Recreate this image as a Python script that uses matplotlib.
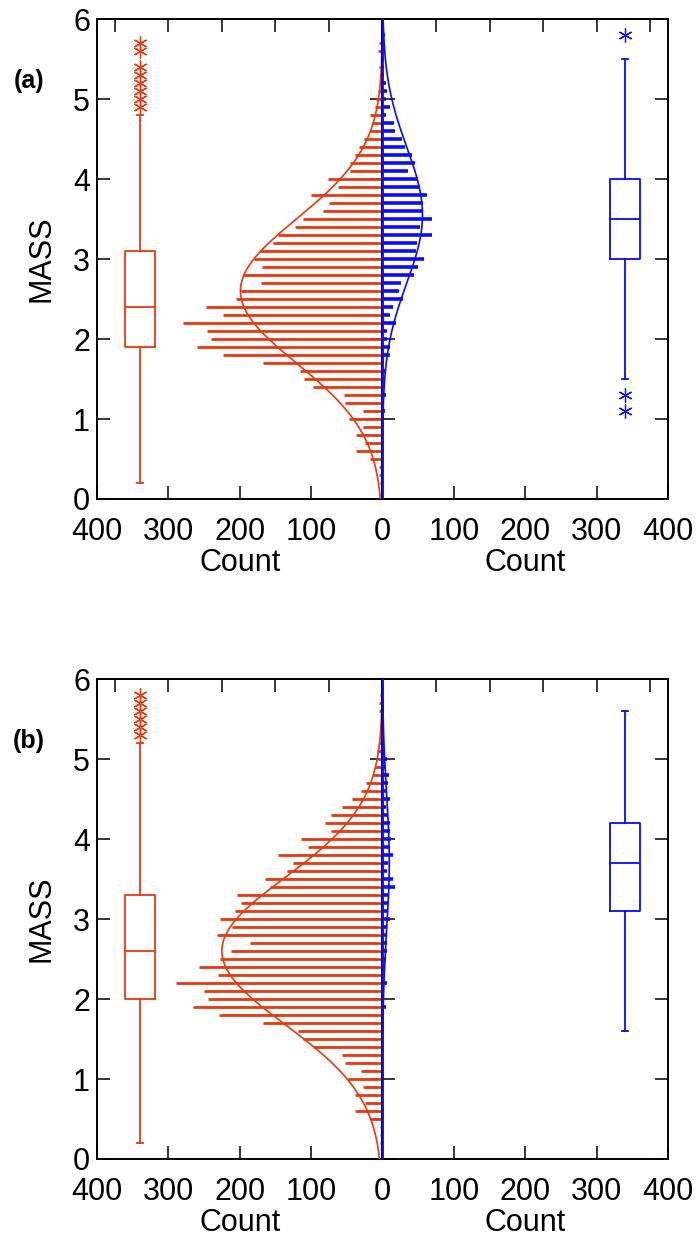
import matplotlib
matplotlib.use("Agg")
import matplotlib.pyplot as plt
import numpy as np

plt.rcParams['font.family'] = ['Liberation Sans', 'DejaVu Sans']

# MASS bin centres (0.1 wide)
mass = np.round(np.arange(0.2, 5.85, 0.1), 1)

# ---- panel (a) counts ----
red_a = [3, 5, 5, 17, 37, 24, 37, 27, 47, 27, 52, 54, 98, 110, 116, 167, 223, 260, 240,
         246, 280, 223, 247, 205, 198, 170, 195, 169, 180, 171, 154, 147, 122, 111, 83,
         75, 100, 62, 76, 45, 45, 39, 33, 26, 18, 15, 18, 10, 9, 7, 2, 3, 5, 0, 6, 5, 0]
blue_a = [0, 0, 0, 0, 0, 0, 0, 0, 0, 4, 1, 5, 1, 4, 5, 2, 11, 11, 7, 7, 19, 10, 15, 29,
          23, 26, 44, 50, 58, 47, 48, 69, 53, 69, 57, 57, 63, 53, 50, 36, 46, 41, 31, 28,
          18, 16, 5, 11, 5, 6, 5, 2, 2, 2, 1, 1, 4]
# ---- panel (b) counts ----
red_b = [4, 4, 4, 18, 38, 25, 38, 28, 48, 30, 52, 57, 98, 112, 118, 167, 229, 265, 244,
         250, 290, 230, 257, 227, 212, 186, 232, 211, 227, 207, 198, 204, 158, 165, 134,
         125, 146, 105, 114, 72, 80, 72, 57, 43, 30, 23, 13, 10, 6, 8, 5, 3, 3, 2, 5, 5, 4]
blue_b = [0, 0, 0, 0, 0, 0, 0, 0, 0, 0, 0, 0, 0, 0, 2, 2, 2, 5, 1, 1, 6, 1, 4, 5, 6, 7,
          6, 7, 10, 7, 8, 8, 18, 15, 6, 8, 15, 11, 12, 10, 11, 6, 5, 11, 6, 8, 9, 5, 6, 4,
          2, 1, 1, 1, 2, 1, 1]

# normal fits: (mean, sd, peak count)
fit_red_a, fit_blue_a = (2.6, 0.9, 199), (3.55, 0.85, 56)
fit_red_b, fit_blue_b = (2.6, 0.92, 225), (3.7, 0.85, 9.5)

# box plot stats
box_red_a = dict(whislo=0.2, q1=1.9, med=2.4, q3=3.1, whishi=4.8,
                 fliers=[4.9, 5.0, 5.1, 5.2, 5.3, 5.4, 5.6, 5.7])
box_blue_a = dict(whislo=1.5, q1=3.0, med=3.5, q3=4.0, whishi=5.5,
                  fliers=[1.1, 1.3, 5.8])
box_red_b = dict(whislo=0.2, q1=2.0, med=2.6, q3=3.3, whishi=5.2,
                 fliers=[5.3, 5.4, 5.5, 5.6, 5.7, 5.8])
box_blue_b = dict(whislo=1.6, q1=3.1, med=3.7, q3=4.2, whishi=5.6, fliers=[])

RED = '#e8380d'
BLUE = '#0a0aff'
FS = 22


def style_axis(ax, side):
    ax.set_ylim(0, 6)
    ax.set_yticks(range(7))
    ax.set_xticks([0, 100, 200, 300, 400])
    if side == 'left':
        ax.set_xlim(400, 0)
        ax.set_xticklabels(['0', '100', '200', '300', '400'])
    else:
        ax.set_xlim(0, 400)
        ax.set_xticklabels(['', '100', '200', '300', '400'])
        ax.set_yticklabels([])
    ax.tick_params(direction='in', length=9.5, width=1.1, labelsize=FS,
                   left=True, right=True)
    ax.tick_params(axis='x', pad=13)
    ax.tick_params(axis='y', pad=5)
    for sp in ax.spines.values():
        sp.set_linewidth(1.4)
    sec = ax.secondary_xaxis('top')
    sec.set_xticks([75, 150, 225, 300, 375])
    sec.tick_params(direction='in', length=9.5, width=1.1, labeltop=False)
    sec.spines['top'].set_linewidth(1.4)
    ax.set_xlabel('Count', fontsize=FS, labelpad=1)


def half(ax, counts, fit, box, color, lw):
    ax.hlines(mass, 0, counts, color=color, lw=lw, zorder=3)
    mu, sd, peak = fit
    yy = np.linspace(0, 6, 400)
    ax.plot(peak * np.exp(-0.5 * ((yy - mu) / sd) ** 2), yy, color=color, lw=1.2, zorder=4)
    ax.bxp([box], positions=[340], widths=42, capwidths=8, showfliers=True,
           boxprops=dict(color=color, lw=1.3),
           medianprops=dict(color=color, lw=1.3),
           whiskerprops=dict(color=color, lw=1.3),
           capprops=dict(color=color, lw=1.3),
           flierprops=dict(marker=(6, 2, 0), markersize=10, markeredgecolor=color,
                           markeredgewidth=0.9, linestyle='none'))


def panel(bottom, red, blue, fr, fb, br, bb, tag):
    h = 0.3880
    axl = fig.add_axes([97 / 700, bottom, 285.5 / 700, h])
    axr = fig.add_axes([382.5 / 700, bottom, 285.5 / 700, h])
    half(axl, red, fr, br, RED, 2.0)
    half(axr, blue, fb, bb, BLUE, 2.6)
    axr.axvline(0, color=BLUE, lw=2, zorder=5)
    style_axis(axl, 'left')
    style_axis(axr, 'right')
    axl.set_ylabel('MASS', fontsize=FS, labelpad=12)
    fig.text(29 / 700, bottom + h - 62 / 1237, tag, fontsize=18, fontweight='bold',
             ha='center', va='center')


fig = plt.figure(figsize=(7, 12.37), dpi=100)
panel(1 - 499 / 1237, red_a, blue_a, fit_red_a, fit_blue_a, box_red_a, box_blue_a, '(a)')
panel(1 - 1159 / 1237, red_b, blue_b, fit_red_b, fit_blue_b, box_red_b, box_blue_b, '(b)')

fig.savefig('out.png', dpi=100)
